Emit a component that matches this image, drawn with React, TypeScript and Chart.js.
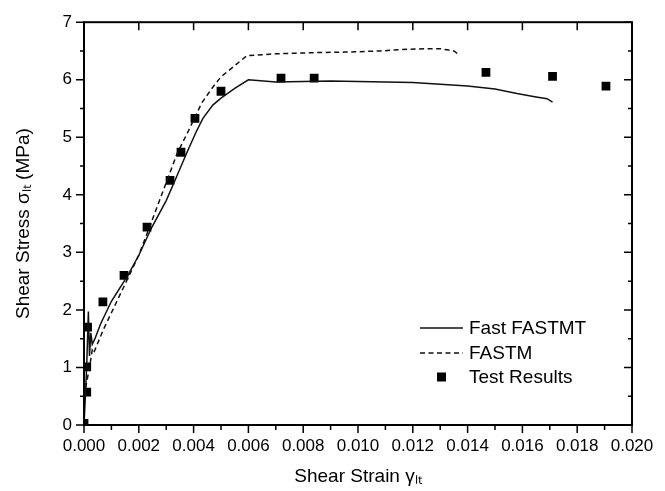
import React, { useEffect, useRef } from "react";
import { Chart, registerables } from "chart.js";
Chart.register(...registerables);

const seriesLabels = ["Fast FASTMT", "FASTM", "Test Results"];

const fastX = [0, 0.00005, 0.0001, 0.00016, 0.0002, 0.00025, 0.0003, 0.0004, 0.0006, 0.001, 0.0016, 0.002, 0.00248, 0.003, 0.00332, 0.00376, 0.0041, 0.00434, 0.0047, 0.005, 0.0055, 0.006, 0.007, 0.008, 0.009, 0.01, 0.011, 0.012, 0.013, 0.014, 0.015, 0.0158, 0.0165, 0.0169, 0.0171];
const fastY = [0, 0.5, 1.05, 1.97, 1.2, 1.6, 1.4, 1.5, 1.75, 2.15, 2.6, 2.95, 3.44, 3.9, 4.25, 4.74, 5.1, 5.33, 5.56, 5.68, 5.85, 6.0, 5.96, 5.97, 5.98, 5.97, 5.96, 5.95, 5.92, 5.89, 5.84, 5.76, 5.7, 5.67, 5.61];

const fastmX = [0, 0.0001, 0.0002, 0.0003, 0.00035, 0.0007, 0.0012, 0.0016, 0.002, 0.0024, 0.00303, 0.0034, 0.0038, 0.0043, 0.0047, 0.005, 0.00595, 0.007, 0.00836, 0.0095, 0.0108, 0.0118, 0.0125, 0.013, 0.01325, 0.0135, 0.01365];
const fastmY = [0.5, 0.75, 1.0, 1.3, 1.25, 1.65, 2.15, 2.55, 2.95, 3.45, 4.25, 4.72, 5.1, 5.6, 5.87, 6.05, 6.42, 6.45, 6.47, 6.48, 6.5, 6.53, 6.54, 6.54, 6.52, 6.5, 6.45];

const testX = [0, 0.0001, 0.0001, 0.00013, 0.00069, 0.00146, 0.0023, 0.00314, 0.00354, 0.00405, 0.005, 0.00719, 0.0084, 0.01467, 0.0171, 0.01905];
const testY = [0.03, 0.57, 1.01, 1.7, 2.14, 2.6, 3.44, 4.25, 4.74, 5.33, 5.8, 6.03, 6.03, 6.13, 6.06, 5.89];

const xTickValues = [0, 0.002, 0.004, 0.006, 0.008, 0.01, 0.012, 0.014, 0.016, 0.018, 0.02];
const xMinorValues = [0.001, 0.003, 0.005, 0.007, 0.009, 0.011, 0.013, 0.015, 0.017, 0.019];
const yTickValues = [0, 1, 2, 3, 4, 5, 6, 7];
const yMinorValues = [0.5, 1.5, 2.5, 3.5, 4.5, 5.5, 6.5];

const FONT = "'Liberation Sans', Arial, sans-serif";

const framePlugin = {
  id: "frameTicks",
  afterDraw(chart: any) {
    const { ctx, chartArea } = chart;
    const { left, right, top, bottom } = chartArea;
    const xs = chart.scales.x;
    const ys = chart.scales.y;
    ctx.save();
    ctx.strokeStyle = "#000";
    ctx.lineWidth = 1.5;
    // ticks
    ctx.beginPath();
    xTickValues.forEach((v) => {
      const px = xs.getPixelForValue(v);
      ctx.moveTo(px, bottom);
      ctx.lineTo(px, bottom + 8);
      ctx.moveTo(px, top);
      ctx.lineTo(px, top + 8);
    });
    xMinorValues.forEach((v) => {
      const px = xs.getPixelForValue(v);
      ctx.moveTo(px, bottom);
      ctx.lineTo(px, bottom + 5);
    });
    yTickValues.forEach((v) => {
      const py = ys.getPixelForValue(v);
      ctx.moveTo(left, py);
      ctx.lineTo(left - 8, py);
      ctx.moveTo(right, py);
      ctx.lineTo(right - 8, py);
    });
    yMinorValues.forEach((v) => {
      const py = ys.getPixelForValue(v);
      ctx.moveTo(left, py);
      ctx.lineTo(left - 4, py);
      ctx.moveTo(right, py);
      ctx.lineTo(right - 4, py);
    });
    ctx.stroke();
    ctx.lineWidth = 2;
    ctx.strokeRect(left, top, right - left, bottom - top);

    // legend
    const rows = [bottom - 97, bottom - 72, bottom - 48];
    const sx = right - 212;
    const ex = right - 169;
    const tx = right - 163;
    ctx.lineWidth = 1.5;
    ctx.strokeStyle = "#111";
    ctx.beginPath();
    ctx.moveTo(sx, rows[0]);
    ctx.lineTo(ex, rows[0]);
    ctx.stroke();
    ctx.setLineDash([5, 3.5]);
    ctx.beginPath();
    ctx.moveTo(sx, rows[1]);
    ctx.lineTo(ex, rows[1]);
    ctx.stroke();
    ctx.setLineDash([]);
    ctx.fillStyle = "#000";
    const cx = (sx + ex) / 2;
    ctx.fillRect(cx - 4.5, rows[2] - 4.5, 9, 9);
    ctx.font = `19px ${FONT}`;
    ctx.textBaseline = "middle";
    ctx.textAlign = "left";
    seriesLabels.forEach((t, i) => ctx.fillText(t, tx, rows[i] + 1));
    ctx.restore();
  },
};

export default function App() {
  const ref = useRef<HTMLCanvasElement>(null);
  useEffect(() => {
    if (!ref.current) return;
    const chart = new Chart(ref.current, {
      type: "scatter",
      data: {
        datasets: [
          {
            label: seriesLabels[0],
            data: fastX.map((x, i) => ({ x, y: fastY[i] })),
            showLine: true,
            borderColor: "#111",
            borderWidth: 1.5,
            pointRadius: 0,
            tension: 0,
          },
          {
            label: seriesLabels[1],
            data: fastmX.map((x, i) => ({ x, y: fastmY[i] })),
            showLine: true,
            borderColor: "#111",
            borderWidth: 1.5,
            borderDash: [5, 3.5],
            pointRadius: 0,
            tension: 0,
          },
          {
            label: seriesLabels[2],
            data: testX.map((x, i) => ({ x, y: testY[i] })),
            showLine: false,
            pointStyle: "rect",
            pointRadius: 6.2,
            backgroundColor: "#000",
            borderColor: "#000",
            borderWidth: 0,
          },
        ],
      },
      options: {
        animation: false,
        responsive: false,
        maintainAspectRatio: false,
        layout: { padding: { top: 16, right: 33, left: 0, bottom: 0 } },
        plugins: { legend: { display: false }, tooltip: { enabled: false } },
        scales: {
          x: {
            type: "linear",
            min: 0,
            max: 0.02,
            grid: { display: false, drawTicks: false },
            border: { display: false },
            afterFit: (s: any) => {
              s.height = 66;
            },
            afterBuildTicks: (s: any) => {
              s.ticks = xTickValues.map((v) => ({ value: v }));
            },
            ticks: {
              color: "#000",
              padding: 11,
              maxRotation: 0,
              autoSkip: false,
              font: { family: FONT, size: 17 },
              callback: (v: any) => Number(v).toFixed(3),
            },
            title: {
              display: true,
              text: "Shear Strain γₗₜ",
              color: "#000",
              font: { family: FONT, size: 19 },
              padding: { top: 0, bottom: 3 },
            },
          },
          y: {
            type: "linear",
            min: 0,
            max: 7,
            grid: { display: false, drawTicks: false },
            border: { display: false },
            afterFit: (s: any) => {
              s.width = 84;
            },
            afterBuildTicks: (s: any) => {
              s.ticks = yTickValues.map((v) => ({ value: v }));
            },
            ticks: {
              color: "#000",
              padding: 12,
              font: { family: FONT, size: 17 },
              callback: (v: any) => String(v),
            },
            title: {
              display: true,
              text: "Shear Stress σₗₜ (MPa)",
              color: "#000",
              font: { family: FONT, size: 19 },
              padding: { top: 12, bottom: 0 },
            },
          },
        },
      },
      plugins: [framePlugin],
    });
    return () => chart.destroy();
  }, []);
  return (
    <canvas
      ref={ref}
      width={665}
      height={491}
      style={{ position: "absolute", left: 0, top: 0, width: 665, height: 491 }}
    />
  );
}
